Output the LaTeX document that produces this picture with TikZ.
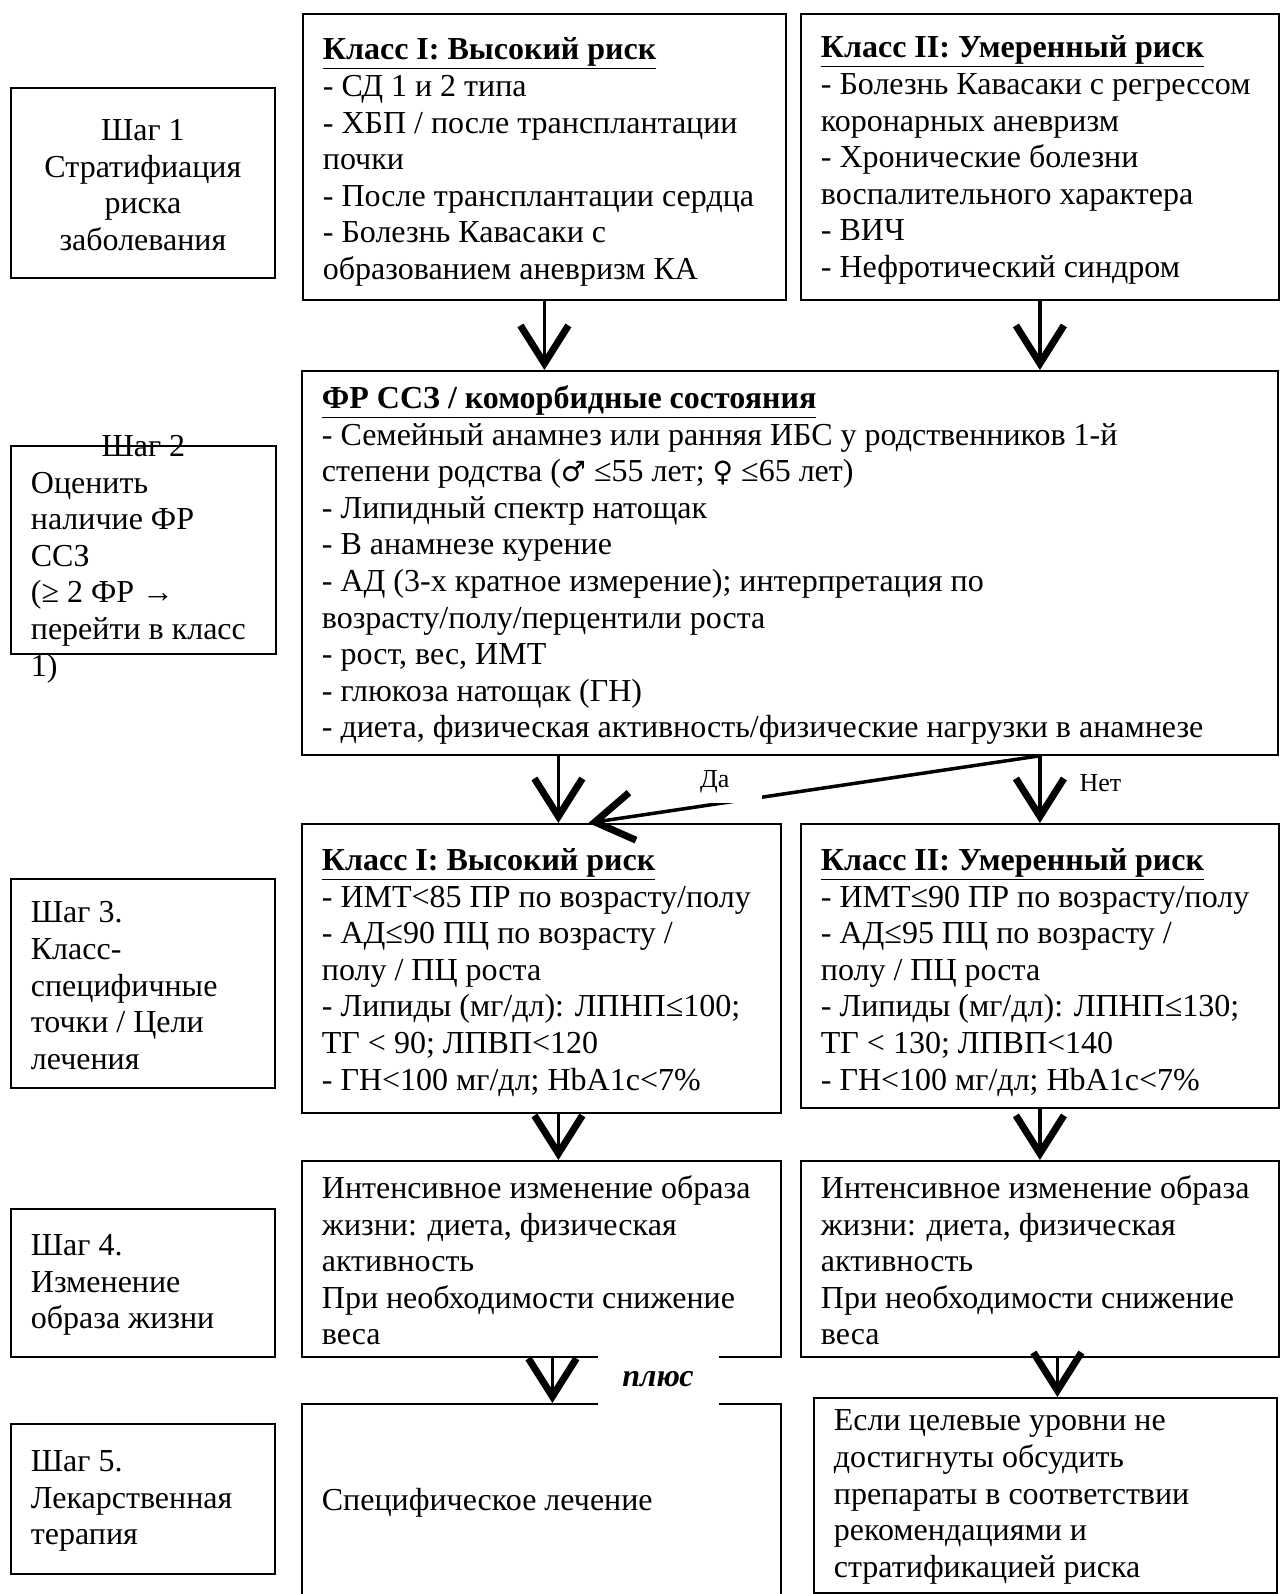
\documentclass[tikz,border=0pt]{standalone}
\usepackage{fontspec}
\setmainfont{Liberation Serif}
\newfontfamily\signfont{DejaVu Sans}
\usetikzlibrary{arrows.meta}

% text block of a box: pad above, width, height, text
\newcommand{\boxtext}[5][t]{\parbox[t][#4][#1]{#3}{\leftskip=20pt\rightskip=0pt plus 1fil\relax
  \parfillskip=0pt plus 1fil\relax\vspace*{#2}\strut #5}}

\begin{document}
\begin{tikzpicture}[x=1pt, y=-1pt,
    box/.style = {draw, line width=1.8pt, anchor=north west, inner sep=0pt,
      font=\fontsize{32pt}{36.6pt}\selectfont},
    arr/.style = {line width=3.5pt, -{Straight Barb[length=38pt, width=48pt, line width=7pt]}},
    answer/.style = {font=\fontsize{26pt}{30pt}\selectfont}]
  \useasboundingbox (0,0) rectangle (1282,1594);

  % step labels
  \node[box] (s1) at (10,87) {\boxtext[c]{0pt}{264pt}{190pt}{\centering Шаг 1\\Стратифиация\\риска\\заболевания}};
  \node[box] (s2) at (10,445) {\boxtext{-15pt}{265pt}{208pt}{{\centering Шаг 2\par}Оценить\\наличие ФР\\ССЗ\\(≥ 2 ФР →\\перейти в класс\\1)}};
  \node[box] (s3) at (10,878) {\boxtext[c]{0pt}{264pt}{209pt}{Шаг 3.\\Класс-\\специфичные\\точки / Цели\\лечения}};
  \node[box] (s4) at (10,1208) {\boxtext[c]{0pt}{264pt}{148pt}{Шаг 4.\\Изменение\\образа жизни}};
  \node[box] (s5) at (10,1423) {\boxtext[c]{0pt}{264pt}{150pt}{Шаг 5.\\Лекарственная\\терапия}};

  % step 1
  \node[box] (c1top) at (302,13) {\boxtext{20.4pt}{483pt}{286pt}{\underline{\textbf{Класс I: Высокий риск}}\\
    - СД 1 и 2 типа\\- ХБП / после трансплантации\\почки\\- После трансплантации сердца\\
    - Болезнь Кавасаки с\\образованием аневризм КА}};
  \node[box] (c2top) at (800,13) {\boxtext{18.4pt}{478pt}{286pt}{\underline{\textbf{Класс II: Умеренный риск}}\\
    - Болезнь Кавасаки с регрессом\\коронарных аневризм\\- Хронические болезни\\
    воспалительного характера\\- ВИЧ\\- Нефротический синдром}};

  % step 2
  \node[box] (fr) at (301,370) {\boxtext{12pt}{976pt}{384pt}{\underline{\textbf{ФР ССЗ / коморбидные состояния}}\\
    - Семейный анамнез или ранняя ИБС у родственников 1-й\\степени родства ({\signfont\fontsize{28pt}{36.6pt}\selectfont ♂} ≤55 лет; {\signfont\fontsize{28pt}{36.6pt}\selectfont ♀} ≤65 лет)\\
    - Липидный спектр натощак\\- В анамнезе курение\\- АД (3-х кратное измерение); интерпретация по\\
    возрасту/полу/перцентили роста\\- рост, вес, ИМТ\\- глюкоза натощак (ГН)\\
    - диета, физическая активность/физические нагрузки в анамнезе}};

  % step 3
  \node[box] (c1mid) at (301,823) {\boxtext{21pt}{479pt}{289pt}{\underline{\textbf{Класс I: Высокий риск}}\\
    - ИМТ<85 ПР по возрасту/полу\\- АД≤90 ПЦ по возрасту /\\полу / ПЦ роста\\
    - Липиды (мг/дл): ЛПНП≤100;\\ТГ < 90; ЛПВП<120\\- ГН<100 мг/дл; HbA1c<7\%}};
  \node[box] (c2mid) at (800,823) {\boxtext{21pt}{478pt}{284pt}{\underline{\textbf{Класс II: Умеренный риск}}\\
    - ИМТ≤90 ПР по возрасту/полу\\- АД≤95 ПЦ по возрасту /\\полу / ПЦ роста\\
    - Липиды (мг/дл): ЛПНП≤130;\\ТГ < 130; ЛПВП<140\\- ГН<100 мг/дл; HbA1c<7\%}};

  % step 4
  \node[box] (c1life) at (301,1160) {\boxtext{12pt}{479pt}{196pt}{Интенсивное изменение образа\\
    жизни: диета, физическая\\активность\\При необходимости снижение\\веса}};
  \node[box] (c2life) at (800,1160) {\boxtext{12pt}{478pt}{196pt}{Интенсивное изменение образа\\
    жизни: диета, физическая\\активность\\При необходимости снижение\\веса}};

  % step 5
  \node[box] (c1drug) at (301,1403) {\boxtext{81pt}{479pt}{240pt}{Специфическое лечение}};
  \node[box] (c2drug) at (813,1397) {\boxtext{7.4pt}{463pt}{195pt}{Если целевые уровни не\\
    достигнуты обсудить\\препараты в соответствии\\рекомендациями и\\стратификацией риска}};

  \coordinate (d1) at ([xshift=17pt]c1mid.north);
  \coordinate (d2) at ([xshift=47pt]c1mid.north);
  \coordinate (d3) at ([xshift=17pt]c1life.north);
  \coordinate (d4) at ([xshift=11pt]c1drug.north);
  \coordinate (d5) at ([xshift=12pt]c2drug.north);

  \draw[arr] (c1top.south) -- (c1top.south |- fr.north);
  \draw[arr] (c2top.south) -- (c2top.south |- fr.north);

  \draw[arr] (fr.south -| d1) -- (d1);
  \draw[arr] (fr.south -| c2mid.north) -- (c2mid.north);
  \draw[arr] (fr.south -| c2mid.north) -- (d2);
  \node[answer, fill=white, anchor=north west, text width=60pt, minimum height=43pt,
    inner sep=2pt, align=left] (yes) at (698,760) {Да};
  \node[answer, anchor=west] (no) at (1076,783) {Нет};

  \draw[arr] (c1mid.south -| d3) -- (d3);
  \draw[arr] (c2mid.south -| c2life.north) -- (c2life.north);

  \draw[arr] (c1life.south -| d4) -- (d4);
  \draw[arr] (c2life.south -| d5) -- (d5);
  \node[fill=white, minimum width=121pt, minimum height=56pt, inner sep=0pt,
    font=\fontsize{32pt}{36.6pt}\selectfont\bfseries\itshape] (plus) at (658,1379) {плюс};
\end{tikzpicture}
\end{document}
